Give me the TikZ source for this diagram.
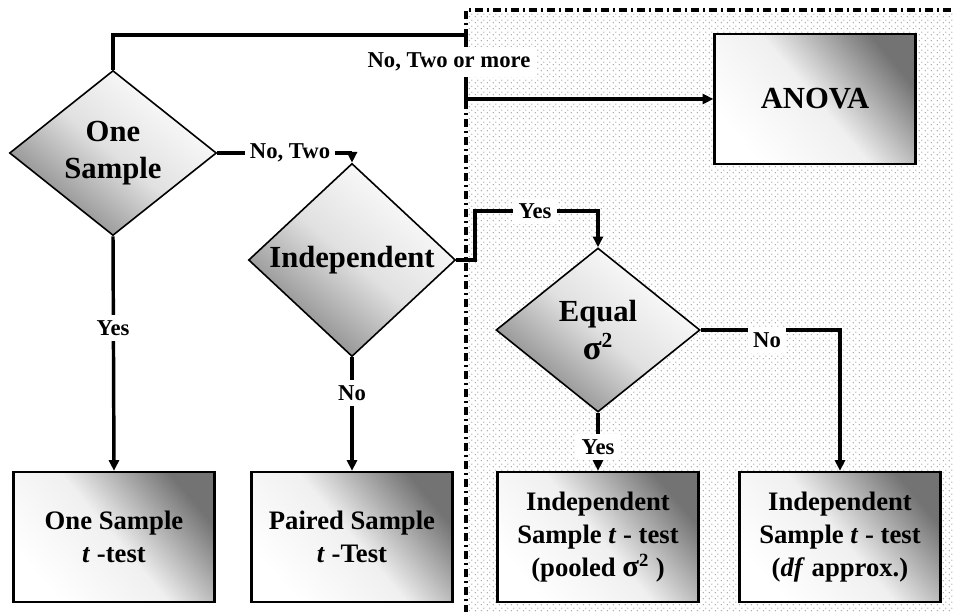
\documentclass[tikz,border=0pt]{standalone}
\usepackage{fontspec}
\setmainfont{Liberation Serif}
\usetikzlibrary{shapes.geometric,arrows.meta,patterns}
\pgfdeclarepatternformonly{mydots}{\pgfpointorigin}{\pgfqpoint{4.5pt}{4.5pt}}{\pgfqpoint{4.5pt}{4.5pt}}{%
  \pgfpathcircle{\pgfqpoint{1.125pt}{1.125pt}}{0.55pt}%
  \pgfpathcircle{\pgfqpoint{3.375pt}{3.375pt}}{0.55pt}%
  \pgfusepath{fill}}
\begin{document}
\begin{tikzpicture}[x=0.75pt,y=-0.75pt,
  dec/.style={diamond, draw=black, line width=1.2pt, inner sep=0pt,
    minimum width=155.25pt, minimum height=123.75pt, align=center,
    font=\bfseries\fontsize{23}{28}\selectfont,
    shading=axis, top color=white, bottom color=black!50, middle color=black!12, shading angle=-40},
  res/.style={rectangle, draw=black, line width=1.8pt, inner sep=0pt,
    minimum width=150.75pt, minimum height=97.5pt, align=center,
    font=\bfseries\fontsize{20}{25}\selectfont,
    shading=axis, top color=black!55, bottom color=white, middle color=white!94!black, shading angle=-50},
  conn/.style={line width=2.6pt},
  arr/.style={conn, -{Triangle[length=8pt,width=7.5pt]}},
  lab/.style={fill=white, inner sep=4pt, font=\bfseries\fontsize{17}{20}\selectfont},
  region/.style={line width=2.6pt, dash pattern=on 6pt off 3pt on 1.5pt off 3pt}
]
\useasboundingbox (0,0) rectangle (953,611);
% shaded region
\fill[white] (466,10) rectangle (955,613);
\fill[pattern=mydots, pattern color=black!42] (466,10) rectangle (955,613);
\draw[region] (466,613) -- (466,10) -- (955,10);

% nodes
\node[dec] (ones) at (113,153) {One\\Sample};
\node[dec] (indep) at (352,260) {Independent};
\node[dec, minimum width=153pt, minimum height=123pt] (equal) at (598,330) {Equal\\{\fontsize{26}{28}\selectfont σ}\textsuperscript{2}};
\node[res, font=\bfseries\fontsize{23}{28}\selectfont] (anova) at (815,99) {ANOVA};
\node[res] (ost) at (114,537) {One Sample\\\textit{t} -test};
\node[res] (pst) at (352,537) {Paired Sample\\\textit{t} -Test};
\node[res] (ipool) at (598,537) {Independent\\Sample \textit{t} - test\\(pooled {\fontsize{23}{25}\selectfont σ}\textsuperscript{2} )};
\node[res] (idf) at (840,537) {Independent\\Sample \textit{t} - test\\(\textit{df} approx.)};

% coordinates
\coordinate (b1) at (466,35);
\coordinate (c1) at (475,211);

% connectors
\draw[arr] (ones.north) |- (b1) |- (anova.west);
\draw[arr] (ones.east) -| (indep.north);
\draw[arr] (indep.east) -| (c1) -| (equal.north);
\draw[arr] (equal.east) -| (idf.north);
\draw[arr] (equal.south) -- (ipool.north);
\draw[arr] (ones.south) -- (ost.north);
\draw[arr] (indep.south) -- (pst.north);

% labels
\node[lab] (l1) at (449,62) {No, Two or more};
\node[lab] (l2) at (290,153) {No, Two};
\node[lab] (l3) at (535,211) {Yes};
\node[lab] (l4) at (767,340) {No};
\node[lab] (l5) at (598,447) {Yes};
\node[lab] (l6) at (113,328) {Yes};
\node[lab] (l7) at (352,393) {No};
\end{tikzpicture}
\end{document}
